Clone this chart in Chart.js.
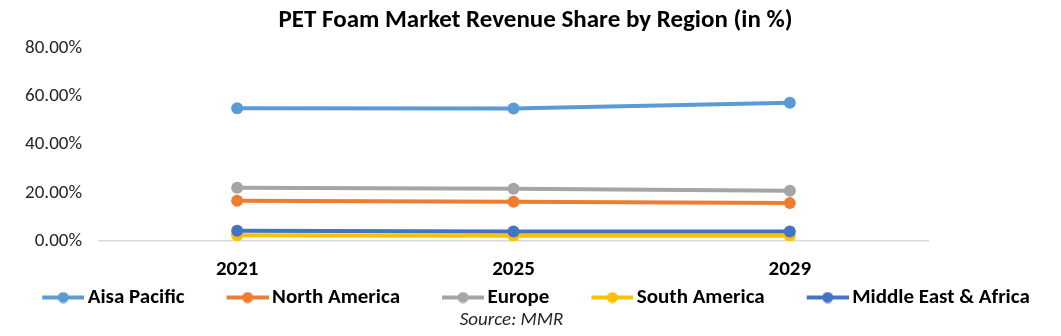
<!doctype html>
<html>
<head>
<meta charset="utf-8">
<title>PET Foam Market Revenue Share by Region</title>
<script src="https://cdn.jsdelivr.net/npm/chart.js"></script>
<style>
  html,body{margin:0;padding:0;background:#fff}
  #wrap{width:1061px;height:336px;position:relative}
</style>
</head>
<body>
<div id="wrap"><canvas id="chart"></canvas></div>
<script>
// data (share in %)
const years = ['2021', '2025', '2029'];
const asiaPacific = [55.0, 54.9, 57.3];
const northAmerica = [16.7, 16.3, 15.7];
const europe = [22.1, 21.7, 20.8];
const southAmerica = [2.4, 2.2, 2.2];
const middleEastAfrica = [4.2, 3.9, 3.9];
const yMin = 0, yMax = 80, yStep = 20;

const names = ['Aisa Pacific', 'North America', 'Europe', 'South America', 'Middle East & Africa'];
const colors = ['#5B9BD5', '#ED7D31', '#A5A5A5', '#FFC000', '#4472C4'];
const series = [asiaPacific, northAmerica, europe, southAmerica, middleEastAfrica];

const BOX = 72; // legend box width, holds the gap before the marker too

// legend marker: short line with a dot, sitting at the right end of a wider canvas
function marker(color) {
  const c = document.createElement('canvas');
  c.width = BOX + 14; c.height = 12;
  const g = c.getContext('2d');
  const x0 = c.width - 42;
  g.strokeStyle = color; g.lineWidth = 4;
  g.beginPath(); g.moveTo(x0, 6); g.lineTo(c.width, 6); g.stroke();
  g.fillStyle = color;
  g.beginPath(); g.arc(x0 + 21, 6, 5.5, 0, Math.PI * 2); g.fill();
  return c;
}

const datasets = series.map((d, i) => ({
  label: names[i],
  data: d,
  borderColor: colors[i],
  backgroundColor: colors[i],
  borderWidth: 4,
  pointRadius: 6,
  pointHoverRadius: 6,
  pointBorderWidth: 0,
  order: series.length - i
}));

const font = 'Carlito, Calibri, Lato, sans-serif';

// nudge the title / legend / source boxes sideways like in the original
const nudge = {
  id: 'nudge',
  afterLayout(chart) {
    chart.boxes.forEach(b => {
      let dx = 0;
      if (b === chart.legend) dx = -13;
      else if (b.options && b.options.text === 'Source: MMR') dx = -19;
      else if (b === chart.titleBlock) dx = 5;
      b.left += dx; b.right += dx;
    });
  }
};

new Chart(document.getElementById('chart'), {
  type: 'line',
  data: { labels: years, datasets },
  plugins: [nudge],
  options: {
    responsive: true,
    maintainAspectRatio: false,
    animation: false,
    layout: { padding: { top: 0, left: 0, right: 0, bottom: 6.5 } },
    scales: {
      x: {
        offset: true,
        grid: { display: false, drawTicks: false },
        border: { display: true, color: '#D9D9D9', width: 1.5 },
        afterFit: s => { s.height = 41; },
        ticks: { color: '#000', padding: 16, font: { family: font, size: 21, weight: 'bold' } }
      },
      y: {
        min: yMin, max: yMax,
        grid: { display: false, drawTicks: false },
        border: { display: false },
        afterFit: s => { s.width = 99; },
        ticks: {
          stepSize: yStep,
          padding: 17,
          color: '#262626',
          font: { family: font, size: 19 },
          callback: v => v.toFixed(2) + '%'
        }
      },
      right: {
        position: 'right',
        grid: { display: false, drawTicks: false },
        border: { display: false },
        ticks: { display: false },
        afterFit: s => { s.width = 133; }
      }
    },
    plugins: {
      title: {
        display: true,
        text: 'PET Foam Market Revenue Share by Region (in %)',
        color: '#000',
        font: { family: font, size: 25, weight: 'bold' },
        padding: { top: 6, bottom: 12 }
      },
      subtitle: {
        display: true,
        position: 'bottom',
        text: 'Source: MMR',
        color: '#262626',
        font: { family: font, size: 19, style: 'italic', lineHeight: 1 },
        padding: { top: -7.5, bottom: 0 }
      },
      legend: {
        position: 'bottom',
        labels: {
          usePointStyle: true,
          pointStyleWidth: BOX,
          padding: 5,
          color: '#000',
          font: { family: font, size: 21, weight: 'bold' },
          sort: (a, b) => a.datasetIndex - b.datasetIndex,
          generateLabels: chart => Chart.defaults.plugins.legend.labels.generateLabels(chart).map(l => {
            l.pointStyle = marker(colors[l.datasetIndex]);
            return l;
          })
        }
      },
      tooltip: { enabled: false }
    }
  }
});
</script>
</body>
</html>
